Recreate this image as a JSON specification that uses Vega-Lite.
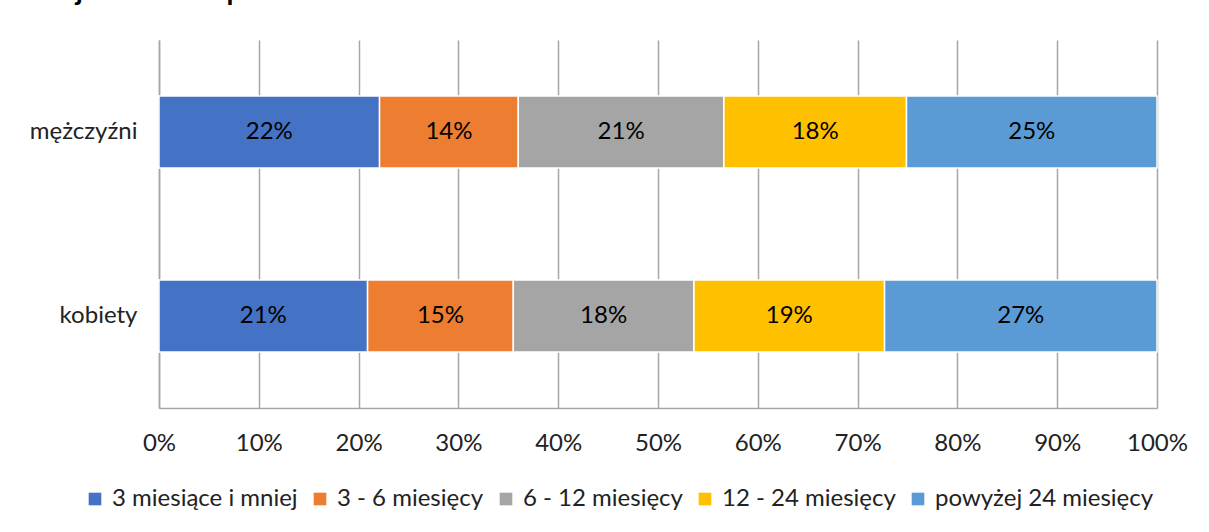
{
  "$schema": "https://vega.github.io/schema/vega-lite/v6.json",
  "width": 998,
  "height": 368,
  "autosize": {"type": "none"},
  "padding": {"left": 159, "top": 40, "right": 52, "bottom": 124},
  "background": "white",
  "title": {
    "text": "w województwie podlaskim",
    "anchor": "start",
    "frame": "bounds",
    "font": "Lato",
    "fontSize": 28,
    "fontWeight": "bold",
    "color": "#000000",
    "baseline": "alphabetic",
    "dx": -20,
    "offset": 12
  },
  "data": {
    "values": [
      {"plec": "mężczyźni", "kat": "3 miesiące i mniej", "k": 1, "v": 0.221},
      {"plec": "mężczyźni", "kat": "3 - 6 miesięcy", "k": 2, "v": 0.139},
      {"plec": "mężczyźni", "kat": "6 - 12 miesięcy", "k": 3, "v": 0.206},
      {"plec": "mężczyźni", "kat": "12 - 24 miesięcy", "k": 4, "v": 0.183},
      {"plec": "mężczyźni", "kat": "powyżej 24 miesięcy", "k": 5, "v": 0.251},
      {"plec": "kobiety", "kat": "3 miesiące i mniej", "k": 1, "v": 0.209},
      {"plec": "kobiety", "kat": "3 - 6 miesięcy", "k": 2, "v": 0.146},
      {"plec": "kobiety", "kat": "6 - 12 miesięcy", "k": 3, "v": 0.181},
      {"plec": "kobiety", "kat": "12 - 24 miesięcy", "k": 4, "v": 0.191},
      {"plec": "kobiety", "kat": "powyżej 24 miesięcy", "k": 5, "v": 0.273}
    ]
  },
  "transform": [
    {"stack": "v", "groupby": ["plec"], "sort": [{"field": "k", "order": "ascending"}], "as": ["v0", "v1"]},
    {"calculate": "(datum.v0 + datum.v1) / 2", "as": "mid"}
  ],
  "encoding": {
    "y": {
      "field": "plec",
      "type": "nominal",
      "sort": ["mężczyźni", "kobiety"],
      "scale": {"paddingInner": 0.61, "paddingOuter": 0.305},
      "axis": {
        "title": null,
        "ticks": false,
        "domain": true,
        "domainColor": "#a6a6a6",
        "domainWidth": 1.5,
        "labelPadding": 22,
        "labelFont": "Lato",
        "labelFontSize": 24,
        "labelColor": "#222222",
        "grid": false
      }
    }
  },
  "layer": [
    {
      "mark": {"type": "bar", "stroke": "white", "strokeWidth": 1.5},
      "encoding": {
        "x": {
          "field": "v0",
          "type": "quantitative",
          "scale": {"domain": [0, 1], "nice": false},
          "axis": {
            "title": null,
            "values": [0, 0.1, 0.2, 0.3, 0.4, 0.5, 0.6, 0.7, 0.8, 0.9, 1],
            "format": ".0%",
            "grid": true,
            "gridColor": "#a6a6a6",
            "gridWidth": 1.5,
            "domain": true,
            "domainColor": "#a6a6a6",
            "domainWidth": 1.5,
            "ticks": false,
            "labelPadding": 23,
            "labelFont": "Lato",
            "labelFontSize": 24,
            "labelColor": "#222222",
            "labelFlush": false
          }
        },
        "x2": {"field": "v1"},
        "color": {
          "field": "kat",
          "type": "nominal",
          "scale": {
            "domain": ["3 miesiące i mniej", "3 - 6 miesięcy", "6 - 12 miesięcy", "12 - 24 miesięcy", "powyżej 24 miesięcy"],
            "range": ["#4472C4", "#ED7D31", "#A5A5A5", "#FFC000", "#5B9BD5"]
          },
          "legend": {
            "title": null,
            "orient": "none",
            "direction": "horizontal",
            "columns": 5,
            "legendX": -76,
            "legendY": 447,
            "symbolType": "square",
            "symbolSize": 160,
            "symbolStrokeWidth": 0,
            "labelFont": "Lato",
            "labelFontSize": 24,
            "labelColor": "#222222",
            "labelLimit": 0,
            "labelOffset": 5,
            "columnPadding": 10
          }
        }
      }
    },
    {
      "mark": {"type": "text", "font": "Lato", "fontSize": 24, "color": "#000000"},
      "encoding": {
        "x": {"field": "mid", "type": "quantitative"},
        "text": {"field": "v", "type": "quantitative", "format": ".0%"}
      }
    }
  ],
  "config": {"view": {"stroke": null}}
}
